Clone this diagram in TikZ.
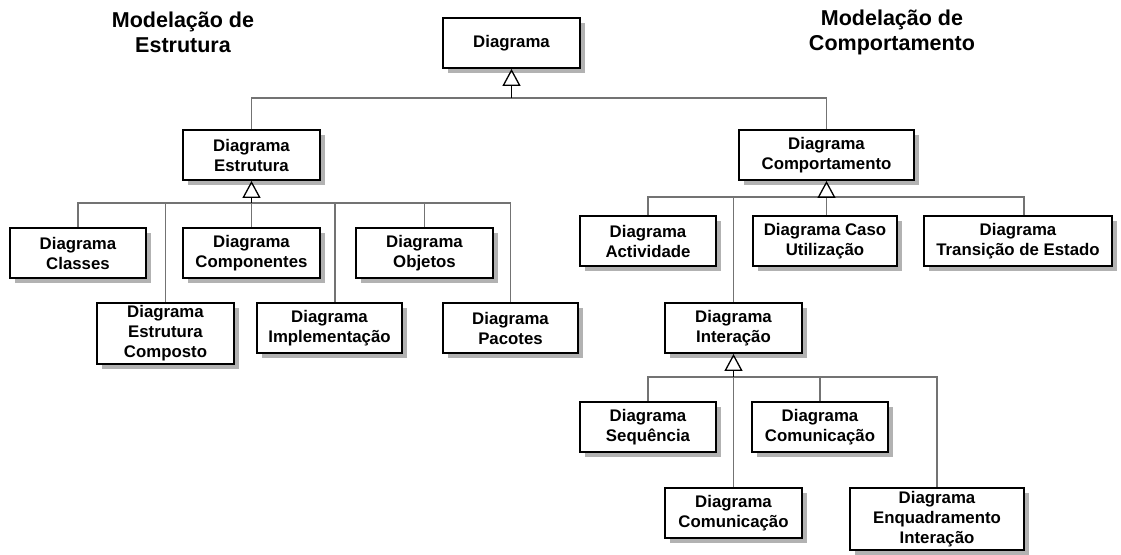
\documentclass[tikz,border=0pt]{standalone}
\usepackage{fontspec}
\setmainfont{Liberation Sans}
\usetikzlibrary{arrows.meta,shadows}
\tikzset{
  box/.style={draw=black, line width=1.8pt, fill=white, align=center, inner sep=0pt,
    minimum height=50pt, font=\bfseries\fontsize{16.8}{20}\selectfont,
    drop shadow={shadow xshift=5pt, shadow yshift=-5pt, fill=black!30, opacity=1}},
  conn/.style={draw=black!55, line width=1.3pt},
  gen/.style={draw=black, line width=1.6pt, -{Triangle[open, length=17pt, width=18pt, line width=1.3pt]}},
  title/.style={font=\bfseries\fontsize{21.5}{25}\selectfont, align=center}
}
\begin{document}
\begin{tikzpicture}[x=1pt,y=-1pt]
\useasboundingbox (0,0) rectangle (1121,554);
\fill[white] (0,0) rectangle (1121,554);
% titles
\node[title] (tS) at (183,32) {Modelação de\\Estrutura};
\node[title] (tC) at (892,32) {Modelação de\\Comportamento};
% boxes
\node[box, minimum width=137pt] (top) at (511.5,43) {Diagrama};
\node[box, minimum width=137pt] (est) at (251.5,155) {Diagrama\\Estrutura};
\node[box, minimum width=175pt] (comp) at (826.5,155) {Diagrama\\Comportamento};
\node[box, minimum width=136pt] (classes) at (78,253) {Diagrama\\Classes};
\node[box, minimum width=137pt] (compon) at (251.5,253) {Diagrama\\Componentes};
\node[box, minimum width=137pt] (objetos) at (424.5,253) {Diagrama\\Objetos};
\node[box, minimum width=137pt, minimum height=61pt] (composto) at (165.5,333.5) {Diagrama\\Estrutura\\Composto};
\node[box, minimum width=145pt] (implem) at (329.5,328) {Diagrama\\Implementação};
\node[box, minimum width=135pt] (pacotes) at (510.5,328) {Diagrama\\Pacotes};
\node[box, minimum width=136pt] (activ) at (648,241) {Diagrama\\Actividade};
\node[box, minimum width=144pt] (caso) at (825,241) {Diagrama Caso\\Utilização};
\node[box, minimum width=188pt] (trans) at (1018,241) {Diagrama\\Transição de Estado};
\node[box, minimum width=137pt] (inter) at (733.5,328) {Diagrama\\Interação};
\node[box, minimum width=136pt] (seq) at (648,427) {Diagrama\\Sequência};
\node[box, minimum width=136pt] (comA) at (820,427) {Diagrama\\Comunicação};
\node[box, minimum width=137pt] (comB) at (733.5,513) {Diagrama\\Comunicação};
\node[box, minimum width=174pt, minimum height=62pt] (enq) at (937,519) {Diagrama\\Enquadramento\\Interação};
% junction coordinates
\coordinate (jT) at (511.5,98);
\coordinate (jS) at (251.5,203);
\coordinate (jB) at (826.5,197);
\coordinate (jI) at (733.5,377);
% top level
\draw[conn] (est.north) |- (jT);
\draw[conn] (comp.north) |- (jT);
\draw[gen] (jT) -- (top.south);
% structure
\draw[conn] (classes.north) |- (jS);
\draw[conn] (composto.north) |- (jS);
\draw[conn] (compon.north) -- (jS);
\draw[conn] ([xshift=5.5pt]implem.north) |- (jS);
\draw[conn] (objetos.north) |- (jS);
\draw[conn] (pacotes.north) |- (jS);
\draw[gen] (jS) -- (est.south);
% behaviour
\draw[conn] (activ.north) |- (jB);
\draw[conn] (inter.north) |- (jB);
\draw[conn] ([xshift=1.5pt]caso.north) |- (jB);
\draw[conn] ([xshift=6pt]trans.north) |- (jB);
\draw[gen] (jB) -- (comp.south);
% interaction
\draw[conn] (seq.north) |- (jI);
\draw[conn] (comB.north) -- (jI);
\draw[conn] (comA.north) |- (jI);
\draw[conn] (enq.north) |- (jI);
\draw[gen] (jI) -- (inter.south);
\end{tikzpicture}
\end{document}
